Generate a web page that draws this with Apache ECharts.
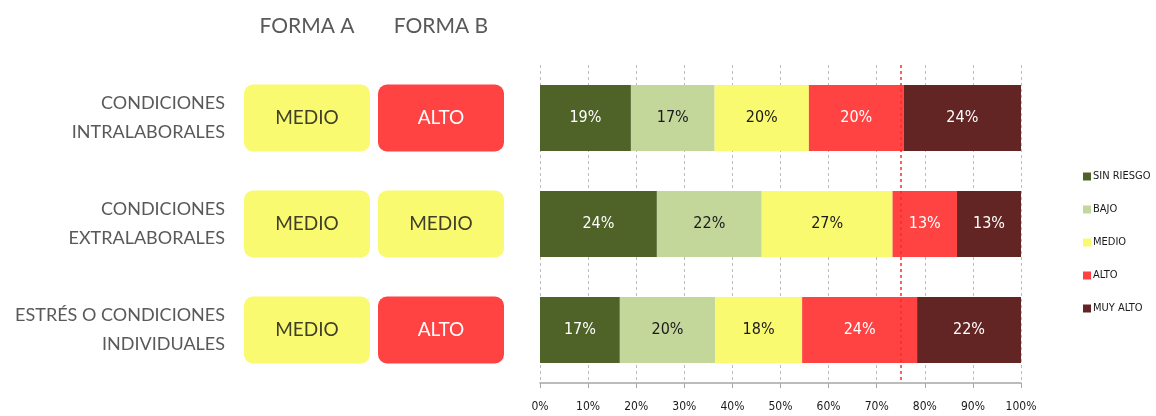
<!DOCTYPE html>
<html>
<head>
<meta charset="utf-8">
<script src="https://cdn.jsdelivr.net/npm/echarts@6/dist/echarts.min.js"></script>
<style>
  html, body { margin: 0; padding: 0; background: #fff; }
  #chart { width: 1156px; height: 416px; }
</style>
</head>
<body>
<div id="chart"></div>
<script>
// row categories (top to bottom)
const rows = [
  'CONDICIONES\nINTRALABORALES',
  'CONDICIONES\nEXTRALABORALES',
  'ESTRÉS O CONDICIONES\nINDIVIDUALES'
]
const formas = ['FORMA A', 'FORMA B']
const formaA = ['MEDIO', 'MEDIO', 'MEDIO']
const formaB = ['ALTO', 'MEDIO', 'ALTO']

// risk distribution per row (%)
const levels = ['SIN RIESGO', 'BAJO', 'MEDIO', 'ALTO', 'MUY ALTO']
const sinRiesgo = [18.9, 24.3, 16.6]
const bajo = [17.4, 21.8, 19.8]
const medio = [19.6, 27.2, 18.1]
const alto = [19.7, 13.4, 23.9]
const muyAlto = [24.4, 13.3, 21.6]
const xTicks = [0, 10, 20, 30, 40, 50, 60, 70, 80, 90, 100]
const cutoff = 75

const colors = ['#4F6228', '#C4D79B', '#FAFA70', '#FF4242', '#632523']
const labelColors = ['#ffffff', '#1a1a1a', '#1a1a1a', '#ffffff', '#ffffff']
const boxColors = { MEDIO: '#FAFA70', ALTO: '#FF4242' }
const boxText = { MEDIO: '#3f3f2a', ALTO: '#ffffff' }
const narrow = '"DejaVu Sans Condensed", "Liberation Sans Narrow", sans-serif'
const gothic = 'Lato, "Open Sans", sans-serif'

const boxData = []
formaA.forEach((v, i) => boxData.push([0, i, v]))
formaB.forEach((v, i) => boxData.push([1, i, v]))

const chart = echarts.init(document.getElementById('chart'))
chart.setOption({
  animation: false,
  color: colors,
  grid: [
    { left: 540, right: 135, top: 65, bottom: 33 },
    { left: 240, width: 268, top: 65, bottom: 33 }
  ],
  legend: {
    orient: 'vertical',
    left: 1078,
    top: 166,
    itemWidth: 8,
    itemHeight: 8,
    itemGap: 22,
    icon: 'rect',
    data: levels,
    textStyle: { fontFamily: narrow, fontSize: 11, color: '#1a1a1a', padding: [0, 0, 0, -3] }
  },
  xAxis: [{
    gridIndex: 0,
    type: 'value',
    min: xTicks[0],
    max: xTicks[xTicks.length - 1],
    interval: 10,
    axisLine: { show: true, lineStyle: { color: '#a6a6a6', width: 1.5 } },
    axisTick: { show: true, length: 5, lineStyle: { color: '#a6a6a6' } },
    axisLabel: { formatter: '{value}%', fontFamily: narrow, fontSize: 12, color: '#1a1a1a', margin: 18 },
    splitLine: { show: true, lineStyle: { color: '#bdbdbd', type: [3, 3] } }
  }, {
    gridIndex: 1,
    type: 'category',
    position: 'top',
    data: formas,
    axisLine: { show: false },
    axisTick: { show: false },
    axisLabel: { fontFamily: gothic, fontSize: 21, color: '#595959', margin: 28 },
    splitLine: { show: false }
  }],
  yAxis: [{
    gridIndex: 0,
    type: 'category',
    inverse: true,
    data: rows,
    axisLine: { show: false },
    axisTick: { show: false },
    axisLabel: { show: false }
  }, {
    gridIndex: 1,
    type: 'category',
    inverse: true,
    data: rows,
    axisLine: { show: false },
    axisTick: { show: false },
    axisLabel: {
      fontFamily: gothic, fontSize: 18, color: '#595959',
      align: 'right', lineHeight: 29, margin: 15
    }
  }],
  series: [
    ...[sinRiesgo, bajo, medio, alto, muyAlto].map((vals, k) => ({
      name: levels[k],
      type: 'bar',
      stack: 'riesgo',
      xAxisIndex: 0,
      yAxisIndex: 0,
      barWidth: 66,
      data: vals,
      label: {
        show: true,
        position: 'inside',
        formatter: p => Math.round(p.value) + '%',
        fontFamily: narrow,
        fontSize: 16,
        color: labelColors[k]
      },
      markLine: k === 4 ? {
        silent: true,
        symbol: 'none',
        z: 10,
        label: { show: false },
        lineStyle: { color: '#ff2a2a', type: [3, 3], width: 1.5, opacity: 1 },
        emphasis: { disabled: true },
        data: [{ xAxis: cutoff }]
      } : undefined
    })),
    {
      type: 'custom',
      xAxisIndex: 1,
      yAxisIndex: 1,
      data: boxData,
      encode: { x: 0, y: 1 },
      renderItem: (params, api) => {
        const c = api.coord([api.value(0), api.value(1)])
        const size = api.size([1, 1])
        const w = size[0] - 8
        const h = 67
        const txt = formaA.concat(formaB)[params.dataIndex]
        return {
          type: 'group',
          children: [{
            type: 'rect',
            shape: { x: c[0] - w / 2, y: c[1] - h / 2, width: w, height: h, r: 9 },
            style: { fill: boxColors[txt] }
          }, {
            type: 'text',
            x: c[0],
            y: c[1],
            style: {
              text: txt,
              fill: boxText[txt],
              font: '19px ' + gothic,
              align: 'center',
              verticalAlign: 'middle'
            }
          }]
        }
      }
    }
  ]
})
</script>
</body>
</html>
